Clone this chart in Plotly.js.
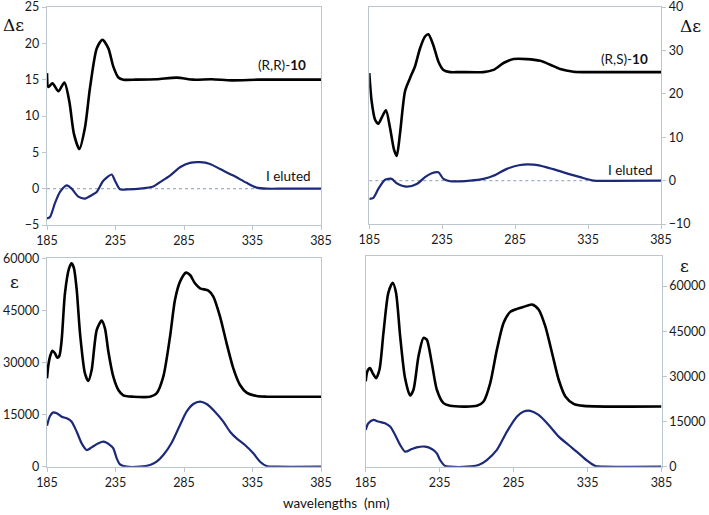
<!DOCTYPE html>
<html><head><meta charset="utf-8">
<script src="https://cdn.plot.ly/plotly-3.0.1.min.js"></script>
<style>html,body{margin:0;padding:0;background:#fff}#chart{width:709px;height:515px}</style>
</head><body><div id="chart"></div>
<script>
// ---- Data (wavelength nm / values) ----
const rrX = [185,186,189,193.3,197.7,201.3,204.7,208.6,212.7,216.4,221.3,225.4,229.8,233.4,237.1,240.7,250,265,279.7,292,305,320,340,360,385];
const rrY = [15.9,14.0,14.5,13.4,14.6,12.0,7.5,5.45,8.4,13.9,19.3,20.5,19.3,16.8,15.3,15.0,15.0,15.05,15.28,15.0,15.05,14.9,15.0,15.0,15.0];

const el1X = [185,187.2,190.8,194.5,199.4,203,207.9,212.7,217.6,221.3,226.1,232.2,234.6,238.3,243.2,252.9,262.6,267.5,274.8,282.1,289.4,296.7,304,311.3,321,330.7,338,345.3,357.5,369.7,385];
const el1Y = [-4.1,-3.9,-2.0,-0.45,0.45,0,-1.1,-1.36,-0.9,-0.45,1.1,1.95,1.1,-0.1,-0.1,0,0.3,0.9,1.8,2.95,3.55,3.64,3.4,2.7,1.8,0.8,0.15,0,0,0,0];

const rsX = [185,186.6,188.9,191.2,193.5,196.4,199.2,201.9,203.8,206,209.5,212.9,216.3,219.8,223.2,225.5,228.9,232.4,235.8,240.4,247.2,263.3,270.1,277,283.9,293,302.2,309,315.9,325,331.9,350,385];
const rsY = [24.8,18.3,14.1,13.1,14.5,16.2,12.2,7.2,5.7,10.7,20.6,23.6,26.3,30.5,33.2,33.7,31.2,27.4,25.5,25.0,25.0,25.0,25.5,27.1,28.0,28.0,27.6,26.7,25.7,25.1,25.0,25.0,25.0];

const el2X = [185,187.7,191.2,195.8,200.3,203.8,210.6,217.5,223.2,227.8,232.4,235.8,240.4,254.1,263.3,270.1,279.3,288.4,297.6,306.7,318.2,329.6,338.8,350.2,385];
const el2Y = [-4.2,-4.0,-1.9,0.2,0.4,-0.6,-1.4,-0.8,0.8,1.7,1.9,0.4,-0.15,0,0.4,1.1,2.7,3.6,3.66,3.05,1.9,0.8,0,-0.05,0];

const uvRRX = [185,186,187.2,188.9,190.8,192.5,194,195.7,198.1,201.1,203,204.7,206.7,209.1,212.7,215.2,217.6,221.3,224.9,227.3,229.8,233.4,237.1,240.7,248,260.2,265,269.9,274.8,278.4,282.1,286.5,289.4,293,296.7,302.8,306.4,311.3,316.1,321,325.9,330.7,338,345.3,385];
const uvRRY = [25440,29280,31680,33400,32640,31390,31870,36480,49920,57120,58560,57120,50880,38400,26880,24670,27840,39360,42050,39840,33120,25920,22080,20540,20160,20160,21120,25920,37440,48000,53280,55870,55200,52800,51360,50690,48960,43200,35520,28320,23520,21310,20350,20160,20160];

const uvEl1X = [185,187.2,189.6,192.1,195.7,199.4,203,206.7,210.3,214,217.6,222.5,226.1,231,233.4,235.9,238.3,243.2,252.9,260.2,265,269.9,276,282.1,286.9,291.8,296.7,301.5,307.6,313.7,318.6,323.4,329.5,335.6,340.5,345.3,352.6,385];
const uvEl1Y = [11810,14590,15650,15360,14400,13920,12960,10080,6720,4800,5570,6720,7200,6240,5280,2400,670,0,0,480,1440,3360,6910,12000,15840,18050,18720,18050,15840,12960,10080,8160,6240,3840,1440,190,0,0];

const uvRSX = [185,186.1,187.9,189.7,192,194.3,197,200.3,203.3,205.5,208.3,211.6,215,217.3,220.7,224.1,226.3,229.7,233.1,237.6,242.1,260.2,264.7,269.2,273.7,278.2,282.7,287.3,291.8,297.4,301.9,306.4,311,315.5,320,325.6,332.4,385];
const uvRSY = [28330,31670,32780,31110,29440,32220,44440,57780,61110,57780,43330,29440,23670,25560,36670,42780,42220,34440,25560,21110,20220,20220,21670,27780,38890,47780,51440,52440,53110,53890,52220,46670,37780,28890,23330,20890,20220,20000];

const uvEl2X = [185,186.8,190.2,193.6,198.1,201.5,204.9,208.3,211.6,216.2,219.5,225.2,229.7,233.1,235.3,238.7,242.1,253.4,261.3,266.9,273.7,280.5,287.3,291.8,296.3,301.9,308.7,315.5,322.2,329,334.7,340.3,346,385];
const uvEl2Y = [12220,14440,15560,15000,14440,13330,10560,7220,5000,5890,6440,6670,5890,4440,2220,220,0,0,560,2220,5560,11670,16670,18330,18560,17220,13890,10000,7220,4440,2000,220,0,0];

const xTicks = [185,235,285,335,385];

// ---- Styles ----
const BLACK = '#000000', NAVY = '#1C2978';
const W = 709, H = 515;
const FONT = 'Lato, "Open Sans", sans-serif';
const fx = p => p / W, fy = p => 1 - p / H;

function tr(x, y, color, width, xa, ya) {
  return {x: x, y: y, mode: 'lines', line: {color: color, width: width, shape: 'spline', smoothing: 0.7},
    xaxis: xa, yaxis: ya, hoverinfo: 'skip', showlegend: false};
}
const data = [
  tr(rrX, rrY, BLACK, 2.6, 'x', 'y'),
  tr(el1X, el1Y, NAVY, 2.2, 'x', 'y'),
  tr(rsX, rsY, BLACK, 2.6, 'x2', 'y2'),
  tr(el2X, el2Y, NAVY, 2.2, 'x2', 'y2'),
  tr(uvRRX, uvRRY, BLACK, 2.6, 'x3', 'y3'),
  tr(uvEl1X, uvEl1Y, NAVY, 2.2, 'x3', 'y3'),
  tr(uvRSX, uvRSY, BLACK, 2.6, 'x4', 'y4'),
  tr(uvEl2X, uvEl2Y, NAVY, 2.2, 'x4', 'y4')
];

const LINEC = '#BCC6CF';
function xa(d0, d1, anchor) {
  return {domain: [fx(d0), fx(d1)], range: [185, 385], tickvals: xTicks, anchor: anchor,
    showline: true, mirror: true, linecolor: LINEC, linewidth: 1.2, showgrid: false, zeroline: false,
    ticks: 'outside', ticklen: 4, tickcolor: LINEC, ticklabeloverflow: 'allow',
    tickfont: {family: FONT, size: 12.5, color: '#1a1a1a'}, fixedrange: true};
}
function ya(d0, d1, range, dtick, side, anchor) {
  return {domain: [fy(d1), fy(d0)], range: range, dtick: dtick, tick0: 0, side: side, anchor: anchor, tickformat: 'd',
    showline: true, mirror: true, linecolor: LINEC, linewidth: 1.2, showgrid: false, zeroline: false,
    ticks: 'outside', ticklen: 4, tickcolor: LINEC, ticklabeloverflow: 'allow',
    tickfont: {family: FONT, size: 12.5, color: '#1a1a1a'}, fixedrange: true};
}
function ann(text, x, y, xanchor, size, family) {
  return {text: text, xref: 'paper', yref: 'paper', x: fx(x), y: fy(y), xanchor: xanchor, yanchor: 'middle',
    showarrow: false, font: {family: family || FONT, size: size, color: '#111'}};
}
const SERIF = '"DejaVu Serif", "Liberation Serif", serif';

const layout = {
  width: W, height: H, margin: {l: 0, r: 0, t: 0, b: 0},
  paper_bgcolor: '#fff', plot_bgcolor: '#fff', showlegend: false,
  xaxis: xa(47, 321, 'y'),
  yaxis: ya(7, 225, [-5, 25], 5, 'left', 'x'),
  xaxis2: xa(369.3, 661, 'y2'),
  yaxis2: ya(7, 224, [-10, 40], 10, 'right', 'x2'),
  xaxis3: xa(47, 321, 'y3'),
  yaxis3: ya(258.3, 466.7, [0, 60000], 15000, 'left', 'x3'),
  xaxis4: xa(365.7, 661.5, 'y4'),
  yaxis4: ya(256, 466.7, [0, 70000], 15000, 'right', 'x4'),
  shapes: [
    {type: 'line', xref: 'x domain', yref: 'y', x0: 0, x1: 1, y0: 0, y1: 0, line: {color: '#9FB0C2', width: 1.2, dash: 'dot'}, layer: 'below'},
    {type: 'line', xref: 'x2 domain', yref: 'y2', x0: 0, x1: 1, y0: 0, y1: 0, line: {color: '#9FB0C2', width: 1.2, dash: 'dot'}, layer: 'below'}
  ],
  annotations: [
    ann('Δε', 13, 25, 'center', 17, SERIF),
    ann('Δε', 690, 26, 'center', 17, SERIF),
    ann('ε', 15, 282, 'center', 17, SERIF),
    ann('ε', 684, 266, 'center', 17, SERIF),
    ann('(R,R)-<b>10</b>', 308, 65, 'right', 13.5),
    ann('I eluted', 313, 176, 'right', 13.5),
    ann('(R,S)-<b>10</b>', 650, 59, 'right', 13.5),
    ann('I eluted', 655, 170, 'right', 13.5),
    ann('wavelengths\u00A0\u00A0(nm)', 336, 503, 'center', 13.5)
  ]
};
Plotly.newPlot('chart', data, layout, {staticPlot: true, displayModeBar: false});
</script></body></html>
